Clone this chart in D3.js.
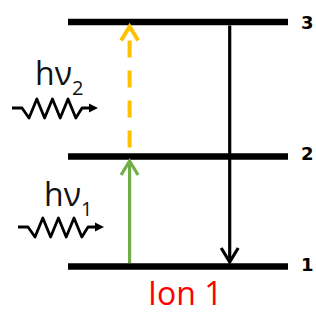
<!DOCTYPE html>
<html>
<head>
<meta charset="utf-8">
<script src="https://cdn.jsdelivr.net/npm/d3@7"></script>
<style>
  body { margin: 0; background: #fff; }
  svg { display: block; }
</style>
</head>
<body>
<div id="chart"></div>
<script>
// Energy levels (relative energy, 0 = ground state)
const levelNames = ["1", "2", "3"];
const levelEnergy = [0, 0.45, 1];

// Transitions: index into levels, horizontal position along the level lines
const transFrom = [0, 1, 2];
const transTo = [1, 2, 0];
const transPos = [0.28, 0.28, 0.735];

// Incoming photons, one per absorption
const photonLabels = ["1", "2"];
const photonLevel = [0, 1];   // drawn beside the transition starting at this level

const ionLabel = "Ion 1";

const width = 316, height = 313;

const svg = d3.select("#chart").append("svg")
  .attr("width", width)
  .attr("height", height);

const y = d3.scaleLinear().domain([0, 1]).range([266.5, 22]);
const x = d3.scaleLinear().domain([0, 1]).range([68, 288]);

const transStyle = [
  { color: "#70AD47", dash: null },
  { color: "#FFC000", dash: "17,13" },
  { color: "#000000", dash: null }
];

// level lines
svg.selectAll(".level")
  .data(levelEnergy)
  .join("line")
  .attr("class", "level")
  .attr("x1", x(0))
  .attr("x2", x(1))
  .attr("y1", d => y(d))
  .attr("y2", d => y(d))
  .attr("stroke", "#000")
  .attr("stroke-width", 6.5);

// level labels (kept just inside the right edge)
svg.selectAll(".level-label")
  .data(levelEnergy)
  .join("text")
  .attr("class", "level-label")
  .attr("x", 301)
  .attr("y", (d, i) => y(d) + [4.5, 4, 7][i])
  .attr("font-family", "'DejaVu Sans', sans-serif")
  .attr("font-weight", "bold")
  .attr("font-size", 18)
  .text((d, i) => levelNames[i]);

// transitions
const half = 3.5;
transFrom.forEach((f, i) => {
  const up = levelEnergy[transTo[i]] > levelEnergy[f];
  const xp = x(transPos[i]);
  const y0 = y(levelEnergy[f]) + (up ? -half : half);
  const y1 = y(levelEnergy[transTo[i]]) + (up ? half : -half);
  const st = transStyle[i];
  const dir = up ? 1 : -1;

  const shaft = svg.append("line")
    .attr("x1", xp).attr("x2", xp)
    .attr("y1", st.dash ? y1 + 2 : y0)
    .attr("y2", st.dash ? y0 : y1 + dir * 2)
    .attr("stroke", st.color)
    .attr("stroke-width", st.dash ? 4 : 3.2);
  if (st.dash) shaft.attr("stroke-dasharray", st.dash).attr("stroke-dashoffset", -13);

  // open chevron head
  svg.append("path")
    .attr("d", `M${xp - 8.5},${y1 + dir * 15}L${xp},${y1 + dir * 1}L${xp + 8.5},${y1 + dir * 15}`)
    .attr("fill", "none")
    .attr("stroke", st.color)
    .attr("stroke-width", st.dash ? 4 : 3.2)
    .attr("stroke-linejoin", "miter");
});

// photons
const wave = d3.line();
photonLevel.forEach((lv, i) => {
  const cy = lv === 0 ? 227 : 108;
  const x0 = lv === 0 ? 18 : 12;

  const pts = [[x0, cy], [x0 + 10, cy]];
  const step = 7.8;
  let px = x0 + 10;
  for (let k = 0; k < 4; k++) {
    pts.push([px + step * 0.9, cy + 10]);
    pts.push([px + step * 1.9, cy - 9]);
    px += step * 2;
  }
  pts[pts.length - 1] = [px - step * 0.3, cy];
  pts.push([x0 + 80, cy]);

  svg.append("path")
    .attr("d", wave(pts))
    .attr("fill", "none")
    .attr("stroke", "#000")
    .attr("stroke-width", 2.8)
    .attr("stroke-linejoin", "round");

  svg.append("path")
    .attr("d", `M${x0 + 77},${cy - 4.5}L${x0 + 86},${cy}L${x0 + 77},${cy + 4.5}Z`)
    .attr("fill", "#000");

  const t = svg.append("text")
    .attr("x", lv === 0 ? 44 : 35)
    .attr("y", lv === 0 ? 206 : 85)
    .attr("font-family", "'Open Sans', sans-serif")
    .attr("font-size", 32)
    .attr("fill", "#111");
  t.append("tspan").text("hν");
  t.append("tspan")
    .attr("font-size", 20)
    .attr("dy", 10)
    .text(photonLabels[i]);
});

// ion label
svg.append("text")
  .attr("x", 148)
  .attr("y", 305)
  .attr("font-family", "'Open Sans', sans-serif")
  .attr("font-size", 32)
  .attr("fill", "#FF0000")
  .text(ionLabel);
</script>
</body>
</html>
